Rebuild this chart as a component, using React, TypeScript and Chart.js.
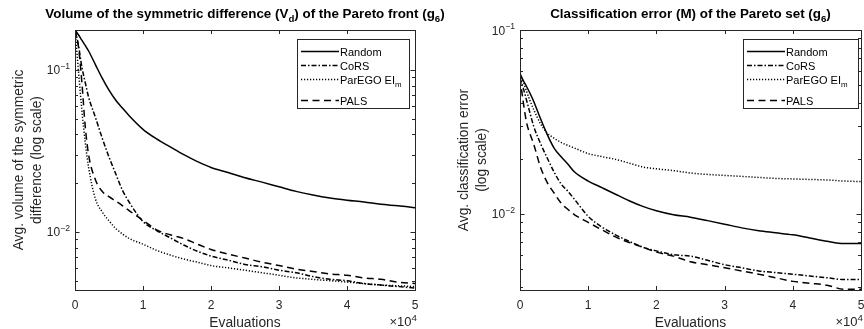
import React, { useEffect, useRef } from "react";
import { Chart, registerables } from "chart.js";
Chart.register(...registerables);

// Evaluations (in units of 10^4)
const evaluations = [0, 0.05, 0.1, 0.15, 0.2, 0.3, 0.4, 0.5, 0.6, 0.7, 0.8, 1.0, 1.2, 1.4, 1.6, 1.8, 2.0, 2.25, 2.5, 2.75, 3.0, 3.25, 3.5, 3.75, 4.0, 4.25, 4.5, 4.75, 5.0];
const xTicks = [0, 1, 2, 3, 4, 5];
const seriesNames = ["Random", "CoRS", "ParEGO EI", "PALS"];

// Left: volume of the symmetric difference V_d
const vdRandom = [0.177, 0.165, 0.153, 0.142, 0.131, 0.108, 0.089, 0.075, 0.065, 0.058, 0.052, 0.043, 0.0375, 0.0335, 0.03, 0.0272, 0.025, 0.0233, 0.0216, 0.0203, 0.019, 0.0178, 0.0169, 0.0162, 0.0157, 0.0153, 0.0148, 0.0145, 0.0141];
const vdCoRS = [0.177, 0.143, 0.105, 0.084, 0.068, 0.051, 0.038, 0.029, 0.0228, 0.018, 0.0152, 0.0116, 0.0102, 0.0092, 0.0083, 0.0076, 0.0071, 0.0067, 0.0063, 0.0061, 0.0058, 0.0056, 0.0053, 0.0051, 0.005, 0.0048, 0.0047, 0.0046, 0.0045];
const vdParEGO = [0.177, 0.1, 0.057, 0.036, 0.025, 0.016, 0.0133, 0.0117, 0.0105, 0.0097, 0.0091, 0.0084, 0.0077, 0.0072, 0.0068, 0.0065, 0.0062, 0.006, 0.0058, 0.0056, 0.0054, 0.0052, 0.0051, 0.005, 0.0049, 0.0048, 0.0047, 0.00465, 0.0046];
const vdPALS = [0.177, 0.14, 0.085, 0.045, 0.03, 0.021, 0.0178, 0.0165, 0.0155, 0.0145, 0.0135, 0.0118, 0.0103, 0.0096, 0.0091, 0.0084, 0.0078, 0.0073, 0.0069, 0.0065, 0.0062, 0.0059, 0.0057, 0.0055, 0.0054, 0.0052, 0.0051, 0.0049, 0.0048];

// Right: classification error M
const mRandom = [0.058, 0.053, 0.049, 0.045, 0.041, 0.033, 0.027, 0.0228, 0.0205, 0.0187, 0.0169, 0.0151, 0.0139, 0.0128, 0.0118, 0.011, 0.0104, 0.0099, 0.0096, 0.0092, 0.0088, 0.0084, 0.0081, 0.0079, 0.0077, 0.0074, 0.0071, 0.0069, 0.0069];
const mCoRS = [0.055, 0.048, 0.041, 0.035, 0.03, 0.0242, 0.0201, 0.0169, 0.0146, 0.0133, 0.012, 0.0097, 0.0085, 0.0077, 0.0071, 0.0066, 0.0063, 0.006, 0.0059, 0.0056, 0.0053, 0.0051, 0.0049, 0.0048, 0.0047, 0.0046, 0.0045, 0.0044, 0.0044];
const mParEGO = [0.057, 0.052, 0.046, 0.041, 0.037, 0.031, 0.0275, 0.0258, 0.0245, 0.0236, 0.0228, 0.0213, 0.0205, 0.0198, 0.0189, 0.018, 0.0176, 0.0172, 0.0167, 0.0164, 0.0162, 0.016, 0.0158, 0.0156, 0.0155, 0.0154, 0.0153, 0.0151, 0.015];
const mPALS = [0.055, 0.04, 0.031, 0.027, 0.024, 0.018, 0.0148, 0.013, 0.0115, 0.0106, 0.0099, 0.009, 0.0082, 0.0075, 0.007, 0.0066, 0.0062, 0.0059, 0.0055, 0.0053, 0.0051, 0.0049, 0.0047, 0.0045, 0.0043, 0.0042, 0.0041, 0.0039, 0.0039];

const FONT = '"Liberation Sans", Arial, Helvetica, sans-serif';
const AX = "#262626";
const dashes: number[][] = [[], [5, 2, 1.5, 2], [1.2, 1.8], [7, 4.5]];

type Part = [string, number]; // 0 normal, 1 superscript, -1 subscript

function drawRich(ctx: CanvasRenderingContext2D, parts: Part[], x: number, y: number, align: string, size: number, weight: string, color: string, small = 0.72) {
  let w = 0;
  for (const [t, m] of parts) {
    ctx.font = `${weight} ${m ? size * small : size}px ${FONT}`;
    w += ctx.measureText(t).width;
  }
  let cx = align === "center" ? x - w / 2 : align === "right" ? x - w : x;
  ctx.fillStyle = color;
  ctx.textAlign = "left";
  ctx.textBaseline = "alphabetic";
  for (const [t, m] of parts) {
    const s = m ? size * small : size;
    ctx.font = `${weight} ${s}px ${FONT}`;
    const dy = m === 1 ? -size * 0.42 : m === -1 ? size * 0.32 : 0;
    ctx.fillText(t, cx, y + dy);
    cx += ctx.measureText(t).width;
  }
}

type PanelCfg = {
  width: number;
  left: number;
  padding: { left: number; right: number; top: number; bottom: number };
  yMin: number;
  yMax: number;
  values: number[][];
  title: Part[];
  yLabel: string[];
  legendRight: number;
  legendWidth: number;
};

const matlabPlugin = {
  id: "matlabAxes",
  afterDraw(chart: any) {
    const cfg: PanelCfg = chart.options.plugins.matlabAxes.cfg;
    const ctx: CanvasRenderingContext2D = chart.ctx;
    const a = chart.chartArea;
    const xs = chart.scales.x;
    const ys = chart.scales.y;
    ctx.save();
    // Ticks
    ctx.strokeStyle = AX;
    ctx.lineWidth = 1;
    ctx.setLineDash([]);
    ctx.beginPath();
    for (const t of xTicks) {
      const px = Math.round(xs.getPixelForValue(t)) + 0.5;
      ctx.moveTo(px, a.bottom);
      ctx.lineTo(px, a.bottom - 4);
      ctx.moveTo(px, a.top);
      ctx.lineTo(px, a.top + 4);
    }
    const d0 = Math.floor(Math.log10(cfg.yMin));
    const d1 = Math.ceil(Math.log10(cfg.yMax));
    const majors: number[] = [];
    for (let d = d0; d <= d1; d++) {
      for (let k = 1; k <= 9; k++) {
        const v = k * Math.pow(10, d);
        if (v < cfg.yMin * 0.999 || v > cfg.yMax * 1.001) continue;
        const py = Math.round(ys.getPixelForValue(v)) + 0.5;
        const len = k === 1 ? 4.5 : 3;
        if (k === 1) majors.push(d);
        ctx.moveTo(a.left, py);
        ctx.lineTo(a.left + len, py);
        ctx.moveTo(a.right, py);
        ctx.lineTo(a.right - len, py);
      }
    }
    ctx.stroke();
    // Box
    ctx.strokeRect(Math.round(a.left) + 0.5, Math.round(a.top) + 0.5, Math.round(a.right - a.left), Math.round(a.bottom - a.top));

    // X tick labels
    ctx.fillStyle = AX;
    ctx.font = `12px ${FONT}`;
    ctx.textAlign = "center";
    ctx.textBaseline = "alphabetic";
    for (const t of xTicks) {
      ctx.fillText(String(t), xs.getPixelForValue(t), a.bottom + 19);
    }
    // exponent label
    drawRich(ctx, [["\u00d710", 0], ["4", 1]], a.right + 2, a.bottom + 36, "right", 13, "normal", AX, 0.75);
    // X title
    ctx.font = `13.8px ${FONT}`;
    ctx.fillStyle = AX;
    ctx.textAlign = "center";
    ctx.fillText("Evaluations", (a.left + a.right) / 2, a.bottom + 37);

    // Y tick labels
    for (const d of majors) {
      const py = ys.getPixelForValue(Math.pow(10, d));
      drawRich(ctx, [["10", 0], [String(d).replace("-", "\u2212"), 1]], a.left - 5, py + 4.5, "right", 12, "normal", AX);
    }
    // Y title
    ctx.save();
    ctx.translate(a.left - 47, (a.top + a.bottom) / 2);
    ctx.rotate(-Math.PI / 2);
    ctx.font = `13.8px ${FONT}`;
    ctx.fillStyle = AX;
    ctx.textAlign = "center";
    ctx.textBaseline = "middle";
    const n = cfg.yLabel.length;
    cfg.yLabel.forEach((line, i) => {
      ctx.fillText(line, 0, (i - (n - 1) / 2) * 17.5);
    });
    ctx.restore();

    // Title
    drawRich(ctx, cfg.title, (a.left + a.right) / 2, 18, "center", 13.4, "bold", "#000");

    // Legend
    const lx = a.right - cfg.legendRight - cfg.legendWidth;
    const ly = a.top + 9;
    const lh = 69;
    ctx.fillStyle = "#fff";
    ctx.fillRect(Math.round(lx) + 0.5, Math.round(ly) + 0.5, cfg.legendWidth, lh);
    ctx.strokeStyle = AX;
    ctx.lineWidth = 1;
    ctx.setLineDash([]);
    ctx.strokeRect(Math.round(lx) + 0.5, Math.round(ly) + 0.5, cfg.legendWidth, lh);
    const rows = [12, 25.5, 40, 61];
    seriesNames.forEach((name, i) => {
      const ry = Math.round(ly + rows[i]) + 0.5;
      ctx.strokeStyle = "#000";
      ctx.lineWidth = 1.5;
      ctx.setLineDash(dashes[i]);
      ctx.beginPath();
      ctx.moveTo(lx + 4, ry);
      ctx.lineTo(lx + 42, ry);
      ctx.stroke();
      ctx.setLineDash([]);
      const parts: Part[] = i === 2 ? [["ParEGO EI", 0], ["m", -1]] : [[name, 0]];
      drawRich(ctx, parts, lx + 43, ry + 4, "left", 11, "normal", "#000");
    });
    ctx.restore();
  },
};

function Panel({ cfg }: { cfg: PanelCfg }) {
  const ref = useRef<HTMLCanvasElement>(null);
  useEffect(() => {
    if (!ref.current) return;
    const chart = new Chart(ref.current, {
      type: "line",
      data: {
        datasets: cfg.values.map((vals, i) => ({
          label: seriesNames[i],
          data: evaluations.map((x, j) => ({ x, y: vals[j] })),
          borderColor: "#000",
          borderWidth: 1.5,
          borderDash: dashes[i],
          pointRadius: 0,
          fill: false,
          cubicInterpolationMode: "monotone" as const,
        })),
      },
      options: {
        animation: false,
        responsive: false,
        devicePixelRatio: 1,
        layout: { padding: cfg.padding },
        scales: {
          x: { type: "linear", min: 0, max: 5, display: false },
          y: { type: "logarithmic", min: cfg.yMin, max: cfg.yMax, display: false },
        },
        plugins: {
          legend: { display: false },
          tooltip: { enabled: false },
          matlabAxes: { cfg },
        } as any,
      },
      plugins: [matlabPlugin],
    });
    return () => chart.destroy();
  }, [cfg]);
  return (
    <canvas
      ref={ref}
      width={cfg.width}
      height={329}
      style={{ position: "absolute", left: cfg.left, top: 0, width: cfg.width, height: 329 }}
    />
  );
}

const leftCfg: PanelCfg = {
  width: 480,
  left: 0,
  padding: { left: 75, right: 65, top: 30, bottom: 39 },
  yMin: 0.00438,
  yMax: 0.1766,
  values: [vdRandom, vdCoRS, vdParEGO, vdPALS],
  title: [["Volume of the symmetric difference (V", 0], ["d", -1], [") of the Pareto front (g", 0], ["6", -1], [")", 0]],
  yLabel: ["Avg. volume of the symmetric", "difference (log scale)"],
  legendRight: 6,
  legendWidth: 112,
};

const rightCfg: PanelCfg = {
  width: 432,
  left: 432,
  padding: { left: 88, right: 3, top: 30, bottom: 39 },
  yMin: 0.00386,
  yMax: 0.1,
  values: [mRandom, mCoRS, mParEGO, mPALS],
  title: [["Classification error (M) of the Pareto set (g", 0], ["6", -1], [")", 0]],
  yLabel: ["Avg. classification error", "(log scale)"],
  legendRight: 3,
  legendWidth: 115,
};

export default function App() {
  return (
    <div style={{ position: "absolute", left: 0, top: 0, width: 864, height: 329, background: "#fff", overflow: "hidden" }}>
      <Panel cfg={leftCfg} />
      <Panel cfg={rightCfg} />
    </div>
  );
}
